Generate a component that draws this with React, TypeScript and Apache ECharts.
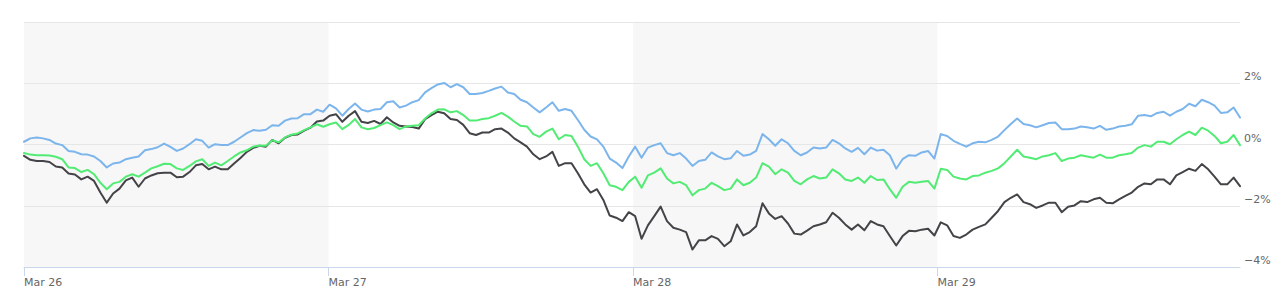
import React, { useEffect, useRef } from "react";
import * as echarts from "echarts";

// x axis: hours since Mar 26 00:00, one sample roughly every 30 minutes
const dayLabels = ["Mar 26", "Mar 27", "Mar 28", "Mar 29"];
const dayTicks = [0, 24, 48, 72];
const shadedDays: [number, number][] = [
  [0, 24],
  [48, 72],
];
const lastHour = 95.83;

const blueValues = [
  0.09, 0.2, 0.23, 0.2, 0.15, 0.03, -0.02, -0.21, -0.24, -0.32, -0.33, -0.39, -0.54, -0.75, -0.62, -0.59,
  -0.48, -0.43, -0.39, -0.19, -0.15, -0.09, 0.03, -0.08, -0.21, -0.13, 0.01, 0.17, 0.12, -0.1, 0.01, -0.02,
  -0.02, 0.09, 0.23, 0.37, 0.47, 0.45, 0.48, 0.63, 0.61, 0.78, 0.85, 0.86, 0.99, 0.99, 1.14, 1.07,
  1.3, 1.18, 0.94, 1.16, 1.34, 1.14, 1.08, 1.14, 1.16, 1.38, 1.41, 1.21, 1.27, 1.38, 1.45, 1.7,
  1.84, 1.96, 2.01, 1.87, 1.97, 1.87, 1.65, 1.65, 1.68, 1.75, 1.83, 1.89, 1.7, 1.65, 1.46, 1.38,
  1.21, 1.05, 1.21, 1.38, 1.1, 1.16, 1.1, 0.8, 0.48, 0.26, 0.17, -0.07, -0.46, -0.59, -0.77, -0.39,
  -0.07, -0.43, -0.1, -0.02, 0.04, -0.28, -0.35, -0.28, -0.46, -0.7, -0.54, -0.5, -0.26, -0.39, -0.48, -0.45,
  -0.21, -0.37, -0.33, -0.21, 0.34, 0.17, -0.04, 0.17, 0.04, -0.21, -0.35, -0.26, -0.1, -0.13, -0.1, 0.15,
  0.04, -0.13, -0.24, -0.11, -0.32, -0.1, -0.2, -0.17, -0.35, -0.79, -0.48, -0.35, -0.37, -0.26, -0.21, -0.46,
  0.34, 0.28, 0.12, 0.02, -0.07, 0.04, 0.09, 0.07, 0.15, 0.26, 0.47, 0.67, 0.85, 0.67, 0.63, 0.56,
  0.63, 0.7, 0.72, 0.5, 0.5, 0.52, 0.59, 0.56, 0.52, 0.61, 0.48, 0.52, 0.59, 0.61, 0.66, 0.94,
  0.96, 0.92, 1.03, 1.07, 0.94, 1.07, 1.16, 1.33, 1.25, 1.46, 1.38, 1.27, 1.03, 1.05, 1.21, 0.88,
];

const blackValues = [
  -0.37, -0.5, -0.54, -0.54, -0.57, -0.72, -0.75, -0.95, -0.98, -1.14, -1.05, -1.19, -1.57, -1.9, -1.6, -1.44,
  -1.17, -1.08, -1.38, -1.11, -1.01, -0.94, -0.92, -0.92, -1.07, -1.05, -0.9, -0.68, -0.64, -0.81, -0.72, -0.81,
  -0.81, -0.62, -0.44, -0.24, -0.11, -0.04, -0.07, 0.15, 0.04, 0.22, 0.31, 0.33, 0.45, 0.55, 0.75, 0.78,
  0.94, 0.99, 0.74, 0.94, 1.09, 0.74, 0.7, 0.77, 0.67, 0.89, 0.72, 0.61, 0.59, 0.57, 0.52, 0.83,
  0.96, 1.07, 1.02, 0.83, 0.8, 0.64, 0.37, 0.31, 0.39, 0.39, 0.5, 0.52, 0.39, 0.2, 0.07, -0.07,
  -0.32, -0.48, -0.39, -0.24, -0.7, -0.61, -0.61, -0.94, -1.3, -1.57, -1.46, -1.81, -2.32, -2.39, -2.5, -2.21,
  -2.34, -3.08, -2.64, -2.34, -2.03, -2.5, -2.72, -2.78, -2.86, -3.43, -3.13, -3.13, -2.99, -3.08, -3.32, -3.16,
  -2.61, -2.97, -2.86, -2.67, -1.92, -2.25, -2.43, -2.34, -2.58, -2.91, -2.94, -2.81, -2.67, -2.61, -2.54, -2.23,
  -2.39, -2.61, -2.78, -2.61, -2.8, -2.5, -2.61, -2.67, -2.99, -3.3, -2.99, -2.82, -2.83, -2.78, -2.75, -2.97,
  -2.54, -2.64, -2.99, -3.05, -2.94, -2.78, -2.69, -2.61, -2.39, -2.17, -1.88, -1.74, -1.63, -1.88, -1.95, -2.07,
  -1.99, -1.9, -1.9, -2.21, -2.03, -1.99, -1.85, -1.88, -1.79, -1.74, -1.9, -1.92, -1.79, -1.68, -1.57, -1.38,
  -1.27, -1.3, -1.14, -1.14, -1.3, -1.01, -0.9, -0.79, -0.86, -0.64, -0.81, -1.05, -1.3, -1.3, -1.08, -1.36,
];

const greenValues = [
  -0.28, -0.33, -0.35, -0.35, -0.36, -0.4, -0.48, -0.75, -0.77, -0.9, -0.83, -0.97, -1.25, -1.46, -1.27, -1.22,
  -1.05, -0.97, -1.05, -0.92, -0.78, -0.71, -0.63, -0.64, -0.78, -0.83, -0.7, -0.55, -0.48, -0.7, -0.59, -0.68,
  -0.54, -0.39, -0.26, -0.19, -0.07, -0.03, -0.04, 0.14, 0.07, 0.23, 0.32, 0.36, 0.47, 0.56, 0.66, 0.58,
  0.66, 0.72, 0.5, 0.64, 0.83, 0.56, 0.5, 0.54, 0.63, 0.72, 0.63, 0.5, 0.59, 0.61, 0.63, 0.85,
  1.02, 1.14, 1.15, 1.05, 1.09, 0.96, 0.78, 0.78, 0.83, 0.86, 0.94, 1.03, 0.91, 0.75, 0.61, 0.59,
  0.34, 0.25, 0.42, 0.52, 0.17, 0.31, 0.28, -0.07, -0.48, -0.7, -0.61, -0.94, -1.33, -1.38, -1.49, -1.22,
  -1.05, -1.41, -1.01, -0.92, -0.78, -1.11, -1.27, -1.22, -1.33, -1.66, -1.49, -1.44, -1.25, -1.36, -1.49, -1.44,
  -1.14, -1.33, -1.25, -1.08, -0.61, -0.72, -0.97, -0.81, -0.92, -1.19, -1.3, -1.14, -1.03, -1.11, -1.08, -0.81,
  -0.94, -1.14, -1.19, -1.08, -1.25, -1.03, -1.16, -1.14, -1.46, -1.74, -1.38, -1.22, -1.25, -1.22, -1.19, -1.44,
  -0.79, -0.83, -1.05, -1.11, -1.14, -1.03, -1.01, -0.92, -0.86, -0.78, -0.61, -0.39, -0.17, -0.39, -0.43, -0.48,
  -0.39, -0.35, -0.28, -0.54, -0.46, -0.43, -0.35, -0.39, -0.43, -0.33, -0.43, -0.43, -0.35, -0.32, -0.28, -0.1,
  -0.02, -0.07, 0.09, 0.09, 0.01, 0.17, 0.31, 0.42, 0.31, 0.55, 0.45, 0.28, 0.04, 0.09, 0.31, -0.02,
];

const yTicks = [-4, -2, 0, 2, 4];

const step = lastHour / (blueValues.length - 1);
const toPoints = (vals: number[]) => vals.map((v, i) => [i * step, v]);

const FONT = "DejaVu Sans";

export default function App() {
  const ref = useRef<HTMLDivElement>(null);

  useEffect(() => {
    if (!ref.current) return;
    const chart = echarts.init(ref.current, undefined, { renderer: "svg" });
    const lineSeries = (name: string, vals: number[], color: string) => ({
      name,
      type: "line",
      data: toPoints(vals),
      showSymbol: false,
      symbol: "none",
      lineStyle: { color, width: 2, join: "round", cap: "round" },
      itemStyle: { color },
      z: 2,
    });
    chart.setOption({
      animation: false,
      backgroundColor: "#ffffff",
      grid: { left: 24, right: 43, top: 22, bottom: 39, containLabel: false },
      xAxis: {
        type: "value",
        min: 0,
        max: lastHour,
        interval: 24,
        z: 3,
        splitLine: { show: false },
        axisLine: { show: true, onZero: false, lineStyle: { color: "#ccd6eb", width: 1 } },
        axisTick: {
          show: true,
          length: 9,
          customValues: dayTicks,
          lineStyle: { color: "#ccd6eb", width: 1 },
        },
        axisLabel: {
          customValues: dayTicks,
          align: "left",
          margin: 9,
          color: "#666666",
          fontSize: 11,
          fontFamily: FONT,
          lineHeight: 13,
          formatter: (v: number) => dayLabels[Math.round(v / 24)] ?? "",
        },
      },
      yAxis: {
        type: "value",
        position: "right",
        min: yTicks[0],
        max: yTicks[yTicks.length - 1],
        interval: 2,
        axisLine: { show: false },
        axisTick: { show: false },
        splitLine: { show: true, lineStyle: { color: "#e6e6e6", width: 1 } },
        axisLabel: {
          margin: 4,
          color: "#666666",
          fontSize: 11,
          fontFamily: FONT,
          verticalAlign: "bottom",
          lineHeight: 13,
          formatter: (v: number) =>
            v === yTicks[yTicks.length - 1] ? "" : (v < 0 ? "\u2212" + Math.abs(v) : String(v)) + "%",
        },
      },
      series: [
        {
          name: "bands",
          type: "line",
          data: [[0, 0]],
          symbol: "none",
          showSymbol: false,
          lineStyle: { width: 0, opacity: 0 },
          silent: true,
          z: -1,
          markArea: {
            z: -1,
            silent: true,
            itemStyle: { color: "rgba(0,0,0,0.031)" },
            data: shadedDays.map(([a, b]) => [{ xAxis: a }, { xAxis: b }]),
          },
        },
        lineSeries("Series 1", blueValues, "#7cb5ec"),
        lineSeries("Series 2", blackValues, "#434348"),
        lineSeries("Series 3", greenValues, "#52eb74"),
      ],
    });
    return () => chart.dispose();
  }, []);

  return (
    <div
      ref={ref}
      style={{ position: "fixed", left: 0, top: 0, width: 1283, height: 306 }}
    />
  );
}
